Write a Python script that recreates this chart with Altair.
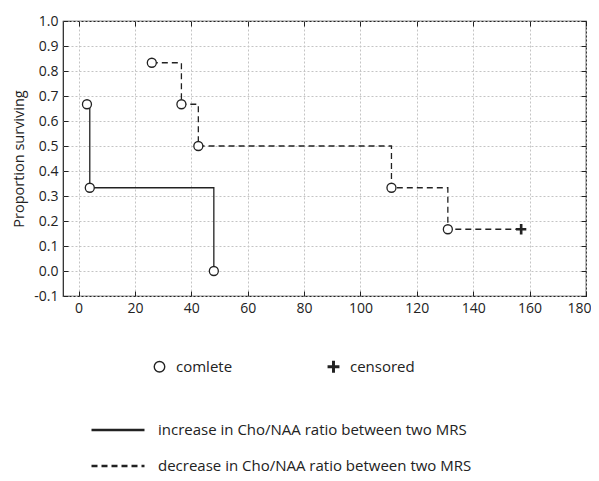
import altair as alt
import pandas as pd

# ---- data ----
inc_time = [3, 4, 48]
inc_surv = [0.667, 0.333, 0.0]
inc_status = ["comlete", "comlete", "comlete"]

dec_time = [26, 36.5, 42.5, 111, 131, 157]
dec_surv = [0.833, 0.667, 0.5, 0.333, 0.167, 0.167]
dec_status = ["comlete", "comlete", "comlete", "comlete", "comlete", "censored"]

groups = ["increase in Cho/NAA ratio between two MRS",
          "decrease in Cho/NAA ratio between two MRS"]
status_labels = ["comlete", "censored"]
x_ticks = [0, 20, 40, 60, 80, 100, 120, 140, 160, 180]
y_ticks = [-0.1, 0.0, 0.1, 0.2, 0.3, 0.4, 0.5, 0.6, 0.7, 0.8, 0.9, 1.0]

df = pd.DataFrame({
    "time": inc_time + dec_time,
    "surv": inc_surv + dec_surv,
    "status": inc_status + dec_status,
    "group": [groups[0]] * len(inc_time) + [groups[1]] * len(dec_time),
})

W, H = 523, 275
FONT = "Open Sans"
INK = "#222222"
PLUS = "M-1,-0.15H-0.15V-1H0.15V-0.15H1V0.15H0.15V1H-0.15V0.15H-1Z"

xs = alt.Scale(domain=[-5.5, 180], nice=False, zero=False)
ys = alt.Scale(domain=[-0.1, 1.0], nice=False, zero=False)

common_axis = dict(labelFont=FONT, labelFontSize=14, labelColor=INK,
                   domain=False, tickColor=INK, tickWidth=1)

line = alt.Chart(df).mark_line(interpolate="step-after", color=INK, strokeWidth=1.3).encode(
    x=alt.X("time:Q", scale=xs, axis=alt.Axis(
        orient="bottom", values=x_ticks, grid=True, gridDash=[2, 2], gridColor="#c4c4c4",
        ticks=False, labelPadding=5, title=None, labelFlush=1, labelFlushOffset=5,
        **common_axis)),
    y=alt.Y("surv:Q", scale=ys, axis=alt.Axis(
        orient="left", values=y_ticks, format=".1f", grid=True, gridDash=[2, 2],
        labelExpr="replace(datum.label, '\u2212', '-')", labelFlush=False,
        gridColor="#c4c4c4", ticks=False, labelPadding=5, title="Proportion surviving",
        titleFont=FONT, titleFontSize=14.5, titleFontWeight="normal", titleColor=INK,
        titlePadding=7, **common_axis)),
    strokeDash=alt.StrokeDash("group:N", scale=alt.Scale(domain=groups, range=[[1, 0], [6, 4]]),
                              legend=alt.Legend(
                                  orient="none", legendX=27, legendY=381, direction="vertical",
                                  title=None, symbolType="stroke", symbolSize=2809,
                                  symbolStrokeWidth=2.4, symbolStrokeColor=INK,
                                  labelFont=FONT, labelFontSize=15, labelColor=INK,
                                  labelOffset=12, labelLimit=600, rowPadding=-30, padding=0)),
)

shape_legend = dict(orient="none", legendX=89, legendY=338, direction="horizontal", title=None,
                    symbolSize=110, symbolStrokeWidth=1.4, symbolStrokeColor=INK,
                    labelFont=FONT, labelFontSize=15, labelColor=INK, labelOffset=9,
                    columnPadding=92, padding=0)

pts = alt.Chart(df).mark_point(filled=True, stroke=INK, strokeWidth=1.3, size=81, opacity=1).encode(
    x=alt.X("time:Q", scale=xs, axis=alt.Axis(
        orient="top", offset=-H, values=x_ticks, labels=False, grid=False, tickSize=5,
        title=None, **common_axis)),
    y=alt.Y("surv:Q", scale=ys, axis=alt.Axis(
        orient="right", offset=-W, values=y_ticks, labels=False, grid=False, tickSize=5,
        title=None, **common_axis)),
    shape=alt.Shape("status:N", scale=alt.Scale(domain=status_labels, range=["circle", PLUS]),
                    legend=alt.Legend(**shape_legend)),
    fill=alt.Fill("status:N", scale=alt.Scale(domain=status_labels, range=["white", INK]),
                  legend=alt.Legend(**shape_legend)),
    stroke=alt.Stroke("status:N", scale=alt.Scale(domain=status_labels, range=[INK, INK]),
                      legend=alt.Legend(**shape_legend)),
)

ticks2 = alt.Chart(df).mark_point(opacity=0).encode(
    x=alt.X("time:Q", scale=xs, axis=alt.Axis(
        orient="bottom", offset=-H, values=x_ticks, labels=False, grid=False, tickSize=5,
        title=None, **common_axis)),
    y=alt.Y("surv:Q", scale=ys, axis=alt.Axis(
        orient="left", offset=-W, values=y_ticks, labels=False, grid=False, tickSize=5,
        title=None, **common_axis)),
)

chart = alt.layer(line, pts, ticks2).resolve_axis(
    x="independent", y="independent"
).properties(
    width=W, height=H,
    autosize=alt.AutoSizeParams(type="none"),
    padding={"left": 55, "top": 13, "right": 5, "bottom": 177},
).configure_view(stroke=INK, strokeWidth=1.2)

chart.save("out.html", embed_options={"renderer": "svg", "actions": False})
